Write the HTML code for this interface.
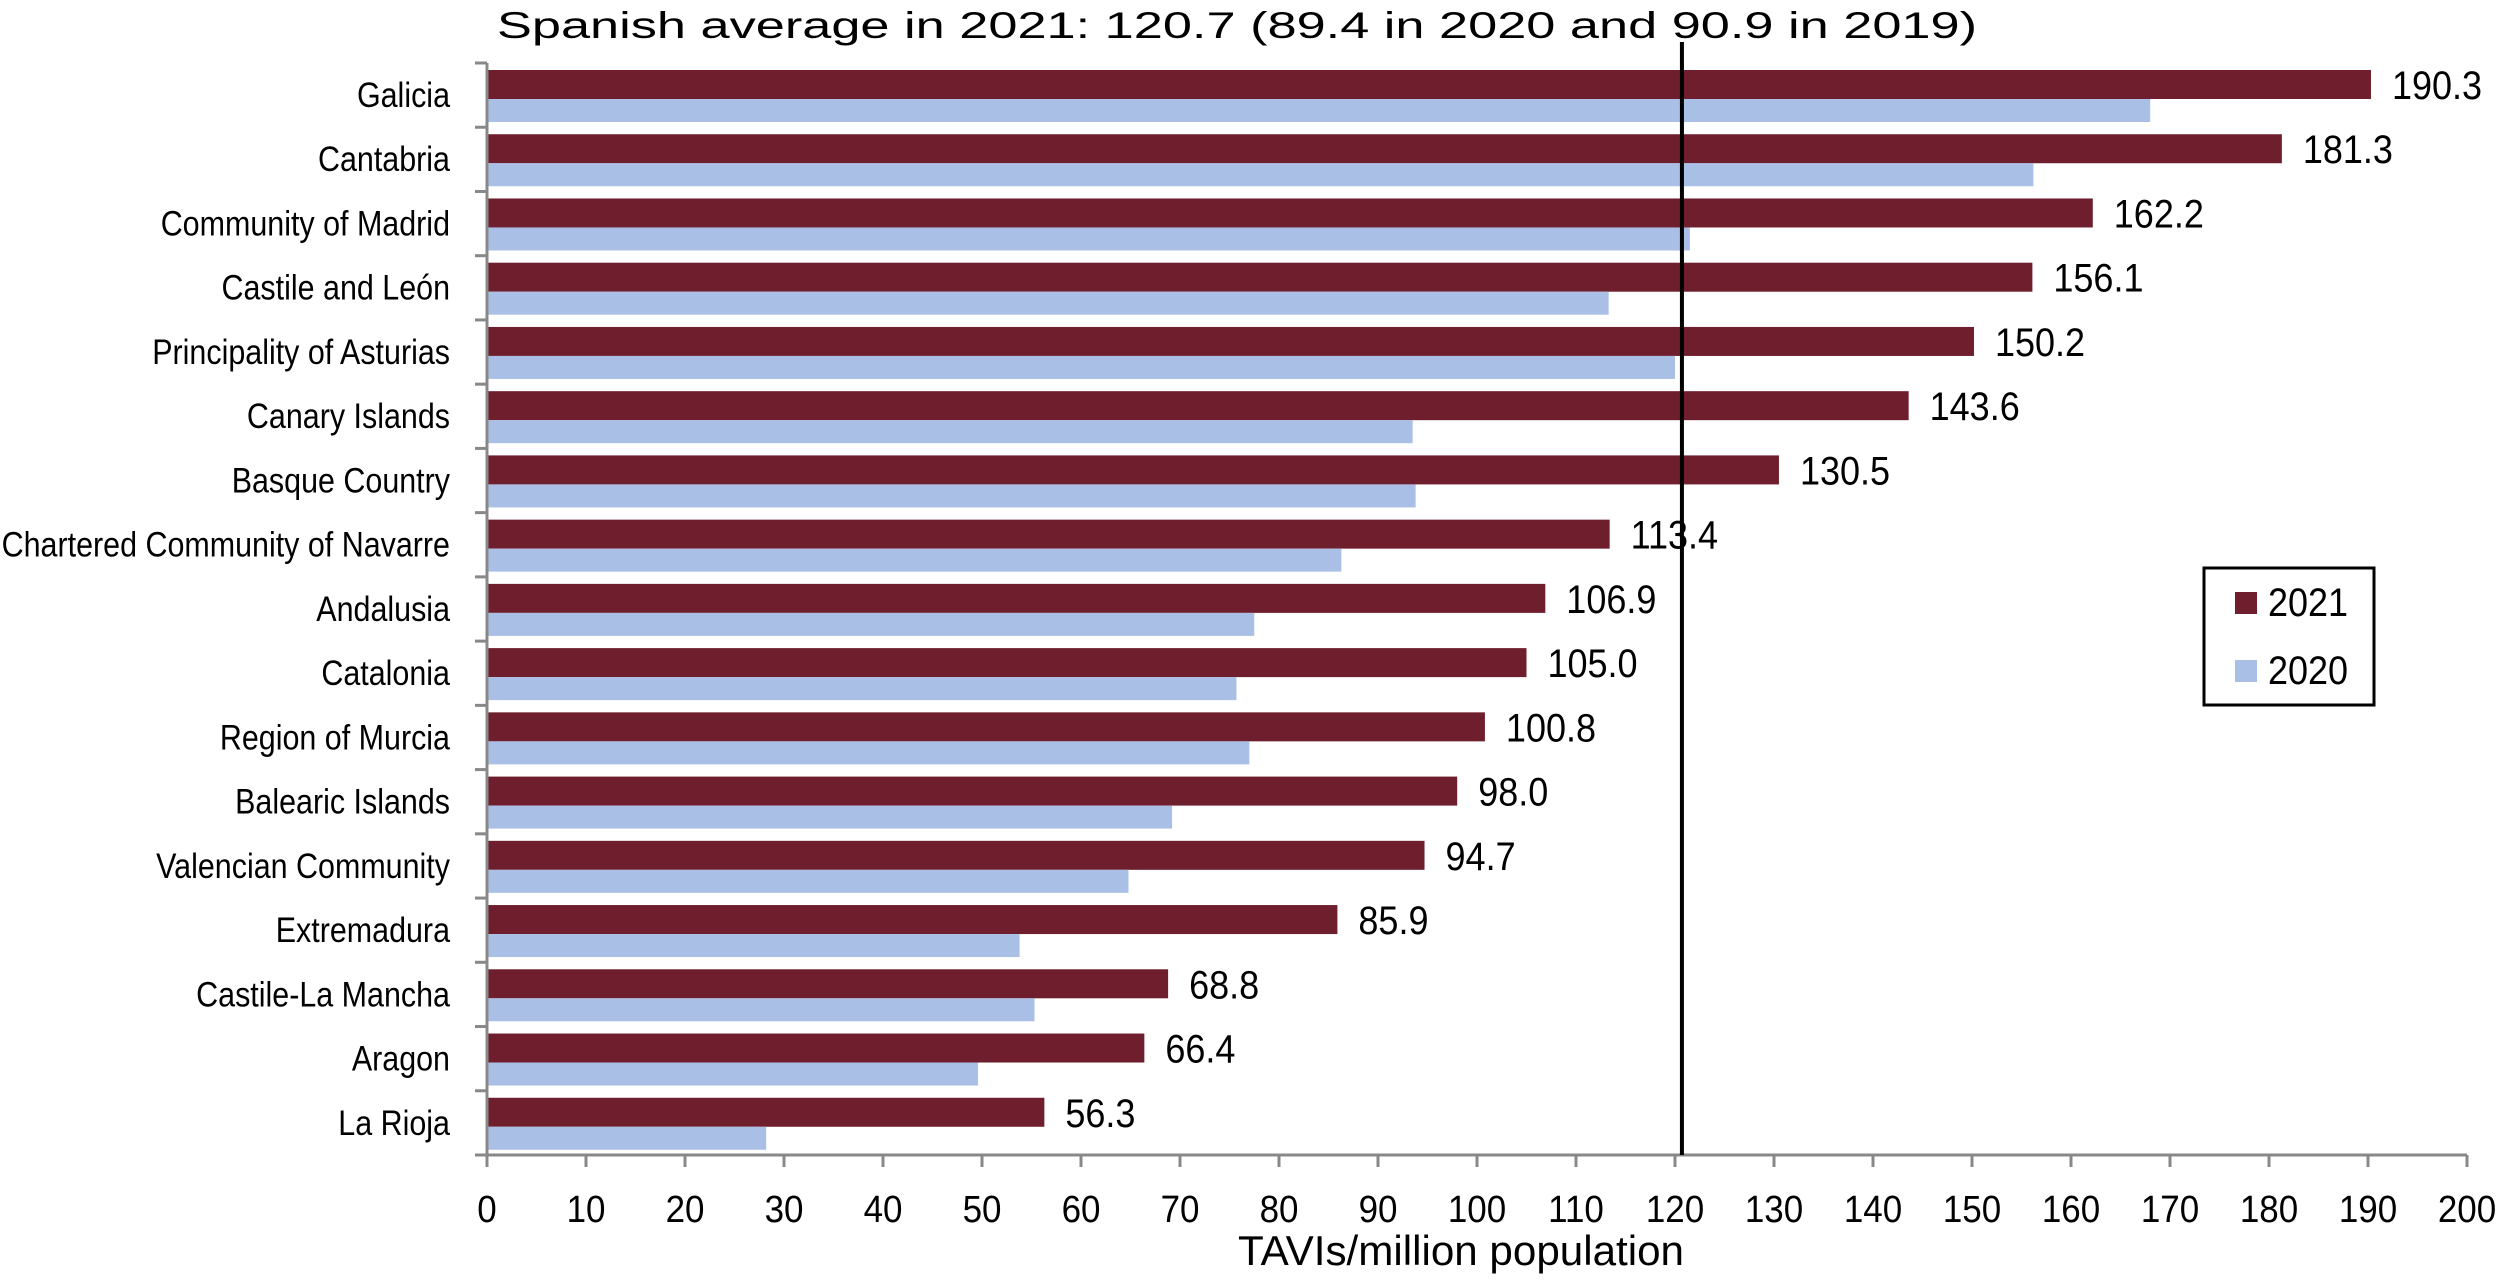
<!DOCTYPE html>
<html><head><meta charset="utf-8"><style>
html,body{margin:0;padding:0;background:#fff;}
svg{display:block;}
</style></head><body>
<svg id="chart" width="2500" height="1281" viewBox="0 0 2500 1281" xmlns="http://www.w3.org/2000/svg" font-family="Liberation Sans, Arial, sans-serif">
<text x="497" y="38" font-size="37" textLength="1480" lengthAdjust="spacingAndGlyphs" fill="#000">Spanish average in 2021: 120.7 (89.4 in 2020 and 90.9 in 2019)</text>
<g id="bars"></g>
<g id="axes"></g>
<text x="1238" y="1265" font-size="42" textLength="446" lengthAdjust="spacingAndGlyphs" fill="#000">TAVIs/million population</text>
<g>
<rect x="2204" y="568" width="170" height="137" fill="#fff" stroke="#000" stroke-width="3"/>
<rect x="2235" y="592" width="22" height="22" fill="#6E1E2D"/>
<text transform="translate(2268,616) scale(0.9,1)" font-size="40" fill="#000">2021</text>
<rect x="2235" y="660" width="22" height="22" fill="#AABFE6"/>
<text transform="translate(2268,684) scale(0.9,1)" font-size="40" fill="#000">2020</text>
</g>
</svg>
<script>
const categories = ["Galicia","Cantabria","Community of Madrid","Castile and León","Principality of Asturias","Canary Islands","Basque Country","Chartered Community of Navarre","Andalusia","Catalonia","Region of Murcia","Balearic Islands","Valencian Community","Extremadura","Castile-La Mancha","Aragon","La Rioja"];
const values2021 = [190.3,181.3,162.2,156.1,150.2,143.6,130.5,113.4,106.9,105.0,100.8,98.0,94.7,85.9,68.8,66.4,56.3];
const values2020 = [168.0,156.2,121.5,113.3,120.0,93.5,93.8,86.3,77.5,75.7,77.0,69.2,64.8,53.8,55.3,49.6,28.2];
const labels2021 = ["190.3","181.3","162.2","156.1","150.2","143.6","130.5","113.4","106.9","105.0","100.8","98.0","94.7","85.9","68.8","66.4","56.3"];
const xTicks = [0,10,20,30,40,50,60,70,80,90,100,110,120,130,140,150,160,170,180,190,200];
const averageValue = 120.7;

const NS = "http://www.w3.org/2000/svg";
const X0 = 487, X1 = 2467, XMAX = 200;
const Y0 = 63, Y1 = 1155;
const band = (Y1 - Y0) / categories.length;
const x = v => X0 + (v / XMAX) * (X1 - X0);
const yb = i => Y0 + i * band;
function mk(tag, attrs, parent){ const e=document.createElementNS(NS,tag); for(const k in attrs) e.setAttribute(k,attrs[k]); parent.appendChild(e); return e; }
const bars = document.getElementById('bars');
const axes = document.getElementById('axes');

categories.forEach((c,i)=>{
  const top = yb(i);
  const r1 = mk('rect',{x:X0,y:top+7,width:x(values2021[i])-X0,height:29,fill:'#6E1E2D'},bars);
  
  
  const r2 = mk('rect',{x:X0,y:top+36,width:x(values2020[i])-X0,height:23,fill:'#AABFE6'},bars);
  
  
  const vl = mk('text',{transform:'translate('+(x(values2021[i])+21)+','+(top+36)+') scale(0.9,1)','font-size':40,fill:'#000'},bars);
  vl.textContent = labels2021[i];
  
  
  const cl = mk('text',{transform:'translate(450,'+(top+44)+') scale(0.87,1)','font-size':35,'text-anchor':'end',fill:'#000'},axes);
  cl.textContent = c;
  
  
});
for(let i=0;i<=categories.length;i++){
  const t = mk('line',{x1:X0-12,x2:X0,y1:yb(i),y2:yb(i),stroke:'#888','stroke-width':3},axes);
  
  
}
const ya = mk('line',{x1:X0,x2:X0,y1:Y0,y2:Y1,stroke:'#888','stroke-width':3},axes);


const xa = mk('line',{x1:X0-12,x2:X1,y1:Y1,y2:Y1,stroke:'#888','stroke-width':3},axes);


xTicks.forEach(v=>{
  const t = mk('line',{x1:x(v),x2:x(v),y1:Y1,y2:Y1+12,stroke:'#888','stroke-width':3},axes);
  
  
  const l = mk('text',{transform:'translate('+x(v)+',1222) scale(0.92,1)','font-size':38,'text-anchor':'middle',fill:'#000'},axes);
  l.textContent = v;
  
  
});
const avg = mk('line',{x1:x(averageValue),x2:x(averageValue),y1:42,y2:Y1,stroke:'#000','stroke-width':4},axes);


</script>
</body></html>
